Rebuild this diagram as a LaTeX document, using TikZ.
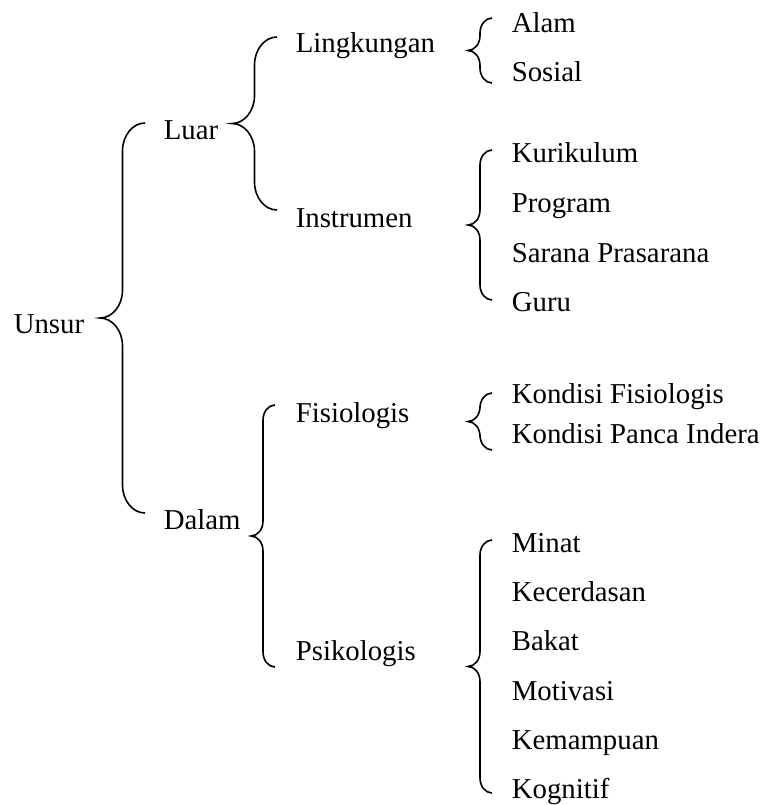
\documentclass[tikz,border=0pt]{standalone}
\usepackage{fontspec}
\setmainfont{Liberation Serif}
\usetikzlibrary{calc}

\tikzset{
	bw/.store in = \bw, bc/.store in = \bc,
	curly/.style = {to path = {let \p1 = (\tikztostart), \p2 = (\tikztotarget), \n1 = {(\y1+\y2)/2},
		\n2 = {\x1-0.5*\bw}, \n3 = {\x1-\bw} in
		(\p1) .. controls ({\x1-0.276*\bw}, \y1) and (\n2, {\y1-0.448*\bc}) .. (\n2, {\y1-\bc})
		-- (\n2, {\n1+\bc}) .. controls (\n2, {\n1+0.448*\bc}) and ({\x1-0.724*\bw}, \n1) .. (\n3, \n1)
		.. controls ({\x1-0.724*\bw}, \n1) and (\n2, {\n1-0.448*\bc}) .. (\n2, {\n1-\bc})
		-- (\n2, {\y2+\bc}) .. controls (\n2, {\y2+0.448*\bc}) and ({\x1-0.276*\bw}, \y2) .. (\p2)}},
	bigbrace/.style = {curly, bw = 45pt, bc = 28pt},
	smallbrace/.style = {curly, bw = 24pt, bc = 15pt}
}

\begin{document}
\begin{tikzpicture}[x = 1pt, y = -1pt, line width = 1.6pt,
		every node/.style = {inner sep = 0pt, anchor = base west, font = \fontsize{28.8}{34}\selectfont}]
		\useasboundingbox (0, 0) rectangle (765, 805);
		%%%%%%%%%%%%%
		\node (unsur) at (13, 333) {Unsur};
		\node (luar) at (163, 140) {Luar};
		\node (dalam) at (163, 529) {Dalam};
		\node (lingk) at (295, 53) {Lingkungan};
		\node (instr) at (295, 227) {Instrumen};
		\node (fisio) at (295, 422) {Fisiologis};
		\node (psiko) at (295, 660) {Psikologis};
		%%%%%%%%%%%%%
		\node (alam) at (511, 33) {Alam};
		\node (sosial) at (511, 82) {Sosial};
		\node (kur) at (511, 163) {Kurikulum};
		\node (prog) at (511, 212) {Program};
		\node (sarana) at (511, 262) {Sarana Prasarana};
		\node (guru) at (511, 311) {Guru};
		\node (kf) at (511, 403) {Kondisi Fisiologis};
		\node (kp) at (511, 443) {Kondisi Panca Indera};
		\node (minat) at (511, 552) {Minat};
		\node (cerdas) at (511, 601) {Kecerdasan};
		\node (bakat) at (511, 650) {Bakat};
		\node (motiv) at (511, 700) {Motivasi};
		\node (mampu) at (511, 749) {Kemampuan};
		\node (kogn) at (511, 798) {Kognitif};
		%%%%%%%%%%%%%
		\coordinate (u1) at (145, 123); \coordinate (u2) at (145, 513);
		\coordinate (l1) at (277, 37); \coordinate (l2) at (277, 210);
		\coordinate (d1) at (275, 405); \coordinate (d2) at (275, 667);
		\coordinate (g1) at (492, 18); \coordinate (g2) at (492, 83);
		\coordinate (i1) at (492, 150); \coordinate (i2) at (492, 300);
		\coordinate (f1) at (492, 393); \coordinate (f2) at (492, 450);
		\coordinate (p1) at (492, 540); \coordinate (p2) at (492, 793);
		%%%%%%%%%%%%%
		\draw [bigbrace] (u1) to (u2);
		\draw [bigbrace] (l1) to (l2);
		\draw [smallbrace] (d1) to (d2);
		\draw [smallbrace] (g1) to (g2); \draw [smallbrace] (i1) to (i2);
		\draw [smallbrace] (f1) to (f2); \draw [smallbrace] (p1) to (p2);
\end{tikzpicture}
\end{document}
